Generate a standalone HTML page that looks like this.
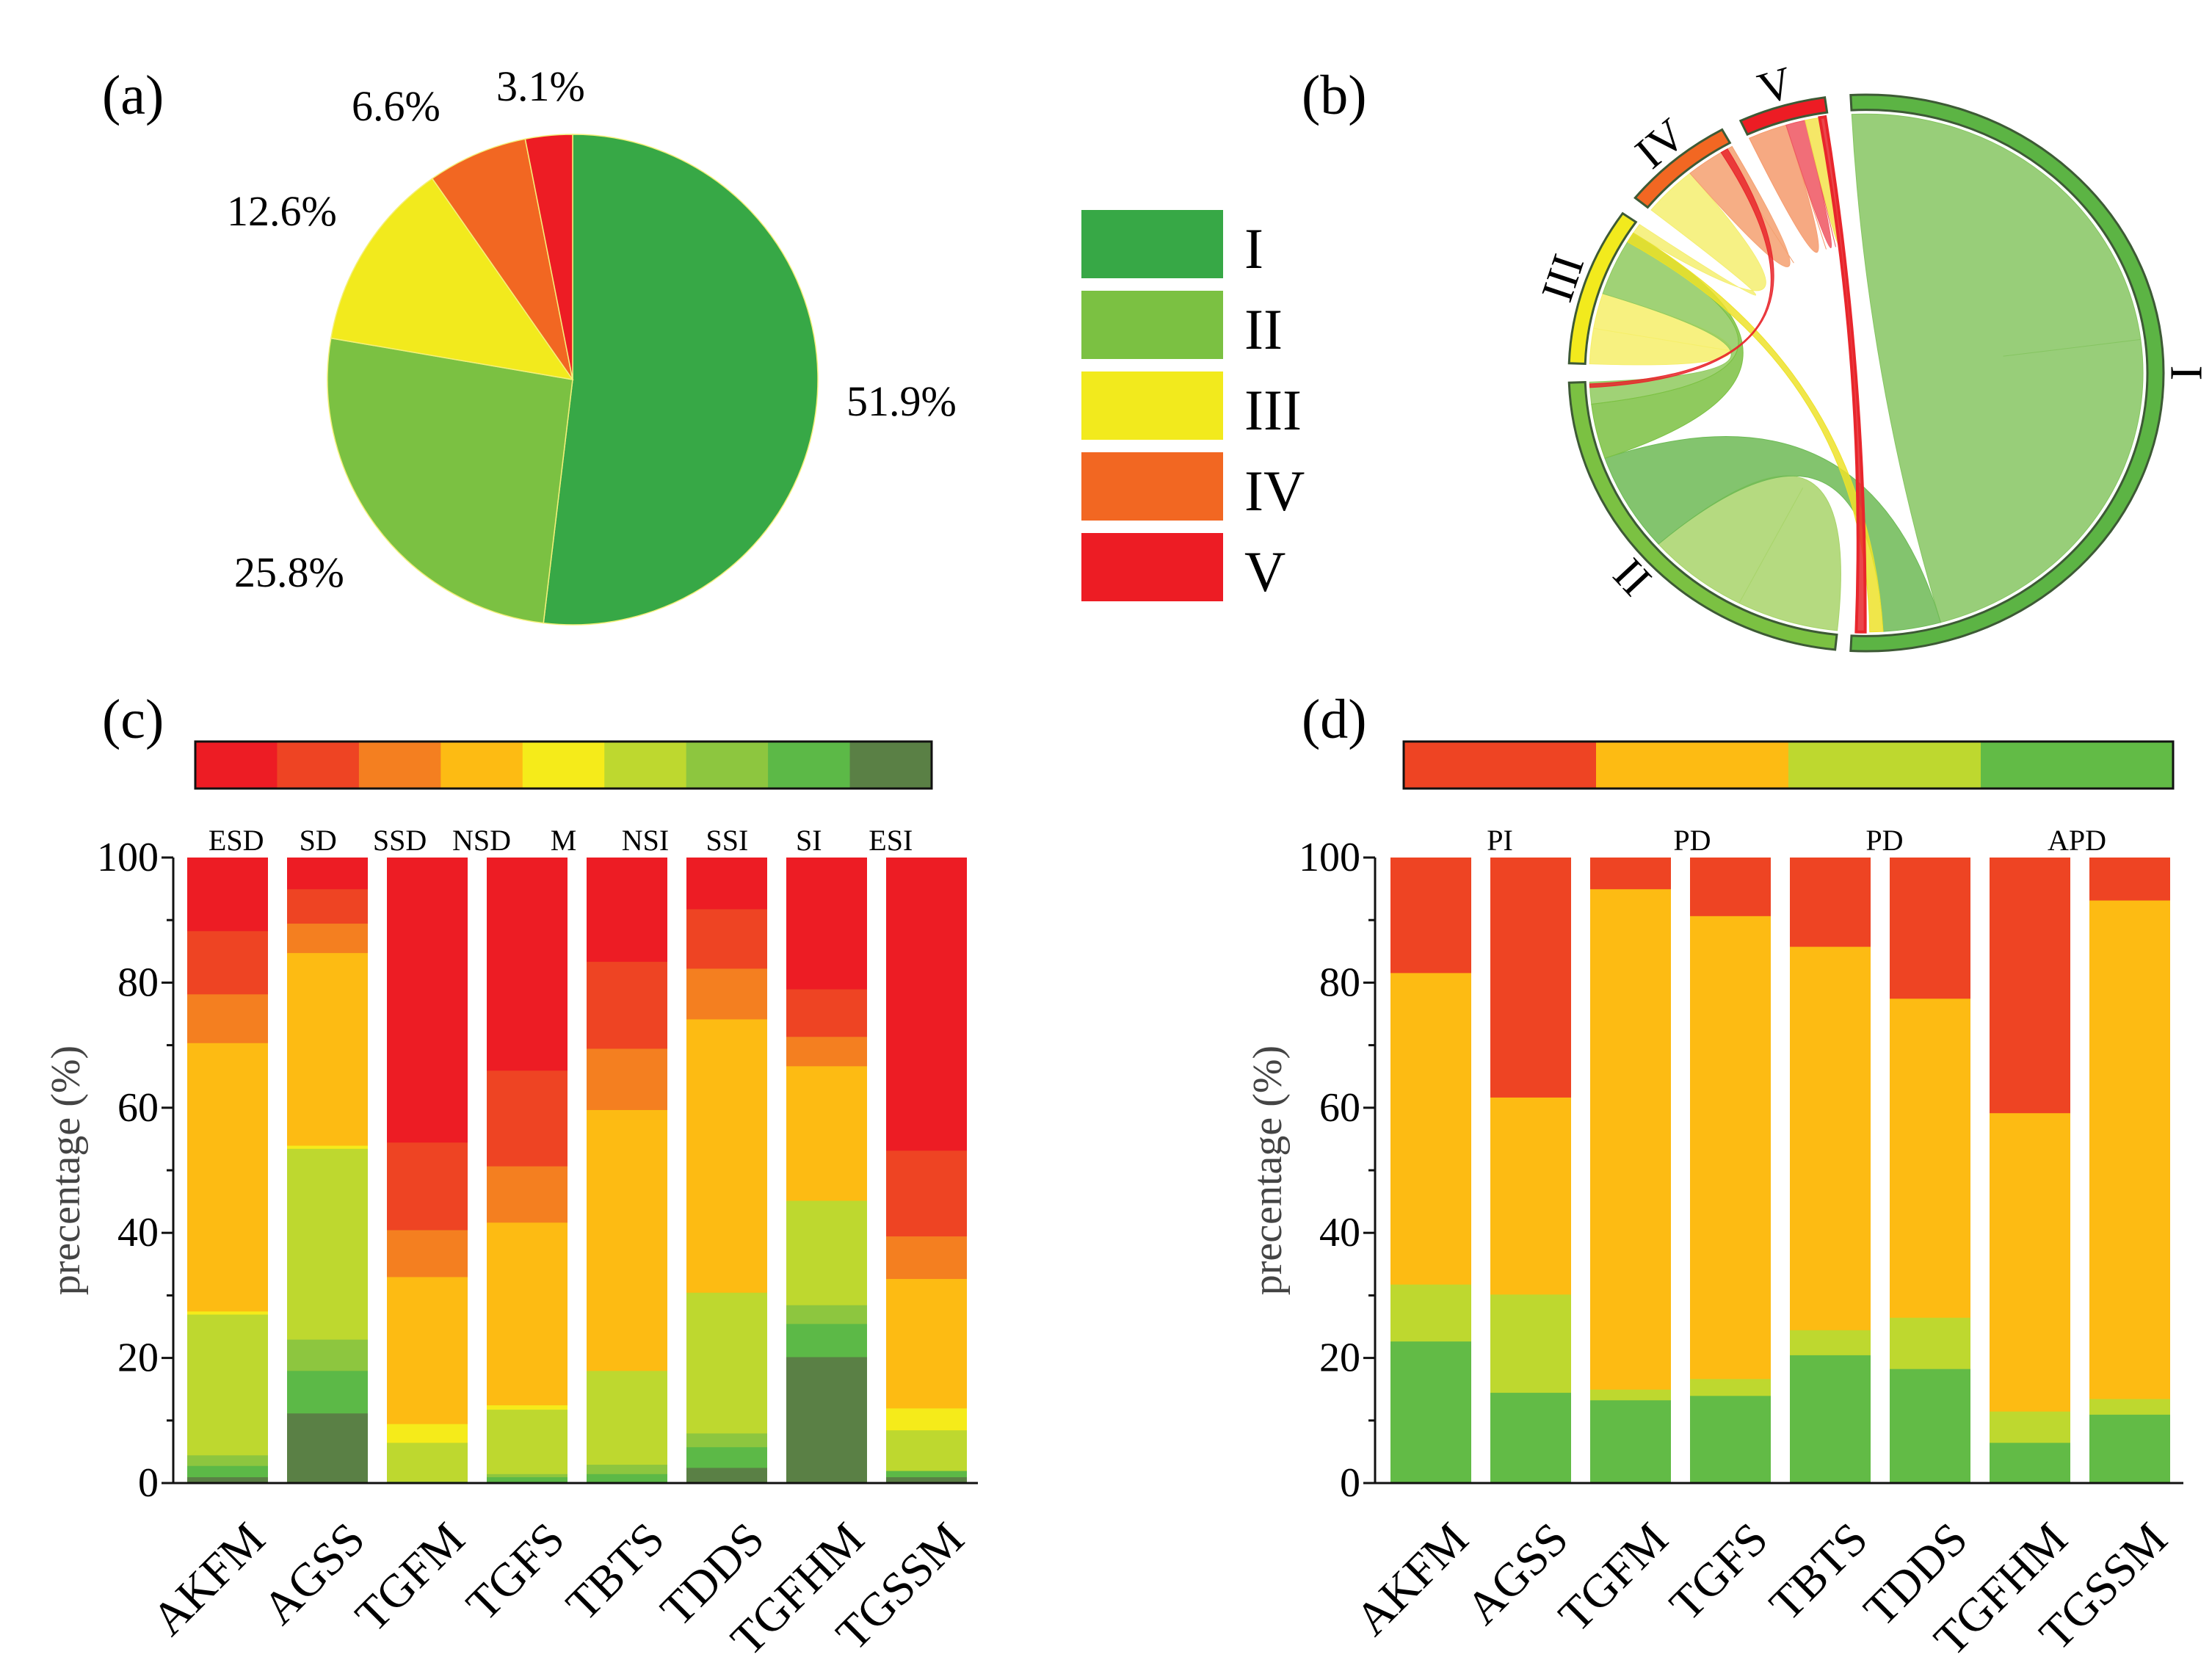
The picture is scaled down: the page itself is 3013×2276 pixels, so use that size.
<!DOCTYPE html>
<html><head><meta charset="utf-8">
<style>
html,body{margin:0;padding:0;background:#fff;}
svg{display:block;font-family:"Liberation Serif",serif;}
</style></head>
<body>
<svg id="fig" width="3013" height="2276" viewBox="0 0 3013 2276" xmlns="http://www.w3.org/2000/svg">
<rect width="3013" height="2276" fill="#fff"/>
<text x="139" y="155" font-size="76">(a)</text>
<text x="1773" y="155" font-size="76">(b)</text>
<text x="139" y="1005" font-size="76">(c)</text>
<text x="1773" y="1005" font-size="76">(d)</text>
<g id="pie"></g>
<g id="legend"></g>
<g id="chord"></g>
<g id="barc"></g>
<g id="bard"></g>
</svg>
<script>
// ---------- data ----------
const pieClasses = ["I","II","III","IV","V"];
const pieValues = [51.9, 25.8, 12.6, 6.6, 3.1];
const pieLabels = ["51.9%","25.8%","12.6%","6.6%","3.1%"];
const classColors = ["#37a846","#7bc142","#f2ea1d","#f26722","#ed1c24"];

const chordGroups = ["I","II","III","IV","V"];
const chordStart = [-3, 186, 272, 309, 335];
const chordEnd = [183, 268, 305, 331, 352];
const linkSrc = [0,1,1,2,2,3,3,4,4,4,1,2,4,3];
const linkSrcA = [0.00,0.00,0.52,0.00,0.48,0.00,0.52,0.00,0.48,0.72,0.79,0.86,0.90,0.88];
const linkSrcB = [0.46,0.26,0.79,0.24,0.86,0.52,0.88,0.48,0.72,0.90,0.94,0.93,0.97,0.95];
const linkTgt = [0,1,0,2,1,2,3,4,4,4,2,0,0,1];
const linkTgtA = [0.46,0.26,0.90,0.24,0.94,0.93,0.88,0.48,0.72,0.90,0.86,0.965,0.985,0.985];
const linkTgtB = [0.90,0.52,0.965,0.48,1.00,1.00,1.00,0.48,0.72,0.90,0.93,0.98,0.995,0.995];
const linkColor = ["#86c562","#a8d46a","#6dba55","#f6ef6a","#8fca5e","#f4ee70","#f4a070","#f59a6c","#ee5560","#f3e34c","#7bc142","#ede22a","#e8262c","#e8262c"];

const barCats = ["AKFM","AGSS","TGFM","TGFS","TBTS","TDDS","TGFHM","TGSSM"];
const cLevels = ["ESD","SD","SSD","NSD","M","NSI","SSI","SI","ESI"];
const cColors = ["#ed1c24","#ee4423","#f47f20","#fdbb13","#f5eb1a","#bed82f","#8dc63f","#5cb947","#5a8045"];
const cESI = [1, 11.2, 0, 0, 0, 2.5, 20.2, 1];
const cSI  = [1.8, 6.8, 0, 1, 1.5, 3.3, 5.3, 1];
const cSSI = [1.7, 5, 0.3, 0.5, 1.5, 2.2, 3, 0];
const cNSI = [22.5, 30.5, 6.2, 10.3, 15, 22.5, 16.7, 6.5];
const cM   = [0.5, 0.5, 3, 0.7, 0, 0, 0, 3.5];
const cNSD = [42.9, 30.8, 23.5, 29.2, 41.7, 43.7, 21.5, 20.7];
const cSSD = [7.8, 4.7, 7.5, 9, 9.8, 8.1, 4.7, 6.8];
const cSD  = [10.1, 5.5, 14, 15.3, 13.9, 9.5, 7.6, 13.7];
const cESD = [11.7, 5, 45.5, 34, 16.6, 8.2, 21, 46.8];

const dLevels = ["PI","PD","PD","APD"];
const dColors = ["#ee4423","#fdbb13","#bed82f","#62bb46"];
const dAPD = [22.7, 14.5, 13.3, 14, 20.5, 18.3, 6.5, 11];
const dPD2 = [9.1, 15.7, 1.7, 2.7, 4, 8.2, 5, 2.5];
const dPD1 = [49.8, 31.5, 80, 74, 61.3, 51, 47.7, 79.7];
const dPI  = [18.4, 38.3, 5, 9.3, 14.2, 22.5, 40.8, 6.8];
const yTicks = [0,20,40,60,80,100];

const NS = "http://www.w3.org/2000/svg";
function mk(parent, tag, attrs, text){
  const e = document.createElementNS(NS, tag);
  for (const k in attrs) e.setAttribute(k, attrs[k]);
  if (text !== undefined) e.textContent = text;
  parent.appendChild(e);
  return e;
}

// ---------- pie ----------
(function(){
  const g = document.getElementById('pie');
  const cx = 780, cy = 517, r = 334;
  const total = pieValues.reduce((a,b)=>a+b,0);
  let acc = 0;
  const pt = (a)=>[cx + r*Math.sin(a*Math.PI/180), cy - r*Math.cos(a*Math.PI/180)];
  pieValues.forEach((v,i)=>{
    const a0 = acc/total*360, a1 = (acc+v)/total*360; acc += v;
    const p0 = pt(a0), p1 = pt(a1);
    const large = (a1-a0) > 180 ? 1 : 0;
    const p = mk(g,'path',{d:`M${cx},${cy} L${p0[0]},${p0[1]} A${r},${r} 0 ${large} 1 ${p1[0]},${p1[1]} Z`, fill:classColors[i], stroke:'#f4f07a', 'stroke-width':1.5});
    
    
  });
  const lx = [1153, 319, 309, 479, 676], ly = [566, 799, 307, 164, 137];
  pieLabels.forEach((t,i)=>{
    const e = mk(g,'text',{x:lx[i], y:ly[i], 'font-size':58}, t);
    
    
  });
})();

// ---------- legend ----------
(function(){
  const g = document.getElementById('legend');
  pieClasses.forEach((c,i)=>{
    const y = 286 + i*110;
    const r = mk(g,'rect',{x:1473, y:y, width:193, height:93, fill:classColors[i]});
    
    
    const t = mk(g,'text',{x:1695, y:y+79, 'font-size':78}, c);
    
    
  });
})();

// ---------- chord ----------
(function(){
  const g = document.getElementById('chord');
  const cx = 2542, cy = 508, RX = 405, RY = 379, band = 22, gap = 6;
  const P = (a, k)=>[cx + RX*k*Math.sin(a*Math.PI/180), cy - RY*k*Math.cos(a*Math.PI/180)];
  const kIn = (RX-band)/RX, kRib = (RX-band-gap)/RX;
  const ang = (gi, f)=> chordStart[gi] + f*(chordEnd[gi]-chordStart[gi]);
  for (let i=0;i<linkSrc.length;i++){
    const s1 = ang(linkSrc[i], linkSrcA[i]), s2 = ang(linkSrc[i], linkSrcB[i]);
    const t1 = ang(linkTgt[i], linkTgtA[i]), t2 = ang(linkTgt[i], linkTgtB[i]);
    const a = P(s1,kRib), b = P(s2,kRib), c = P(t1,kRib), d = P(t2,kRib);
    const rx = RX*kRib, ry = RY*kRib;
    const l1 = (s2-s1)>180?1:0, l2 = (t2-t1)>180?1:0;
    const thin = (s2-s1) < 1.2;
    let dd = `M${a[0]},${a[1]} A${rx},${ry} 0 ${l1} 1 ${b[0]},${b[1]} Q${cx},${cy} ${c[0]},${c[1]} A${rx},${ry} 0 ${l2} 1 ${d[0]},${d[1]} Q${cx},${cy} ${a[0]},${a[1]} Z`;
    const p = mk(g,'path',{d:dd, fill:linkColor[i], 'fill-opacity':0.85, stroke:linkColor[i], 'stroke-width':thin?4:1});
    
    
  }
  chordGroups.forEach((gname,i)=>{
    const a0 = chordStart[i], a1 = chordEnd[i];
    const o0 = P(a0,1), o1 = P(a1,1), n0 = P(a0,kIn), n1 = P(a1,kIn);
    const l = (a1-a0)>180?1:0;
    const d = `M${o0[0]},${o0[1]} A${RX},${RY} 0 ${l} 1 ${o1[0]},${o1[1]} L${n1[0]},${n1[1]} A${RX*kIn},${RY*kIn} 0 ${l} 0 ${n0[0]},${n0[1]} Z`;
    const p = mk(g,'path',{d:d, fill:i===0?'#5cb444':classColors[i], stroke:'#3d5a35', 'stroke-width':3});
    
    
    const mid = (a0+a1)/2;
    const lp = P(mid, 1.075);
    const t = mk(g,'text',{x:lp[0], y:lp[1], 'font-size':62, 'text-anchor':'middle', 'dominant-baseline':'central', transform:`rotate(${mid>180?mid-360:mid} ${lp[0]} ${lp[1]})`}, gname);
    
    
  });
})();

// ---------- stacked bars ----------
function stacked(gid, cfg){
  const g = document.getElementById(gid);
  const y = v => cfg.y0 - v/100*(cfg.y0-cfg.y100);
  const segW = (cfg.cbX1-cfg.cbX0)/cfg.levels.length;
  cfg.levels.forEach((lv,i)=>{
    const r = mk(g,'rect',{x:cfg.cbX0+i*segW, y:1010, width:segW+0.5, height:64, fill:cfg.cbColors[i]});
    
    
  });
  const cbo = mk(g,'rect',{x:cfg.cbX0, y:1010, width:cfg.cbX1-cfg.cbX0, height:64, fill:'none', stroke:'#111', 'stroke-width':3});
  
  
  cfg.topLabels.forEach((lv,i)=>{
    if (!lv) return;
    const t = mk(g,'text',{x:cfg.topX(i,segW), y:1158, 'font-size':40, 'text-anchor':'middle'}, lv);
    
    
  });
  barCats.forEach((cat,j)=>{
    const x = cfg.barX0 + j*136;
    let acc = 0;
    cfg.series.forEach((arr,k)=>{
      const v = arr[j];
      if (v <= 0) { return; }
      const r = mk(g,'rect',{x:x, y:y(acc+v), width:110, height:y(acc)-y(acc+v)+0.6, fill:cfg.colors[k]});
      
      
      acc += v;
    });
    const lx = x + 55 + 22, ly = cfg.y0 + 48;
    const t = mk(g,'text',{x:lx, y:ly, 'font-size':64, 'text-anchor':'end', 'dominant-baseline':'hanging', transform:`rotate(-45 ${lx} ${ly})`}, cat);
    
    
  });
  const ya = mk(g,'line',{x1:cfg.axX, y1:cfg.y0, x2:cfg.axX, y2:cfg.y100, stroke:'#111', 'stroke-width':3});
  
  
  const xa = mk(g,'line',{x1:cfg.axX, y1:cfg.y0, x2:cfg.axX1, y2:cfg.y0, stroke:'#111', 'stroke-width':3});
  
  
  for (let v=0; v<=100; v+=10){
    const major = v%20===0;
    const tk = mk(g,'line',{x1:cfg.axX-(major?16:9), y1:y(v), x2:cfg.axX, y2:y(v), stroke:'#111', 'stroke-width':3});
    
    
  }
  yTicks.forEach(v=>{
    const t = mk(g,'text',{x:cfg.axX-20, y:y(v), 'font-size':56, 'text-anchor':'end', 'dominant-baseline':'central'}, String(v));
    
    
  });
  const yt = mk(g,'text',{x:cfg.titleX, y:(cfg.y0+cfg.y100)/2, 'font-size':56, 'text-anchor':'middle', 'dominant-baseline':'central', fill:'#444', transform:`rotate(-90 ${cfg.titleX} ${(cfg.y0+cfg.y100)/2})`}, 'precentage (%)');
  
  
}

stacked('barc', {
  y0:2020, y100:1168, axX:236, axX1:1332, barX0:255, titleX:90,
  cbX0:266, cbX1:1269,
  levels:cLevels, cbColors:cColors, topLabels:cLevels,
  topX:(i,w)=>266 + (i+0.5)*w,
  series:[cESI,cSI,cSSI,cNSI,cM,cNSD,cSSD,cSD,cESD],
  colors:["#5a8045","#5cb947","#8dc63f","#bed82f","#f5eb1a","#fdbb13","#f47f20","#ee4423","#ed1c24"],
  names:["ESI","SI","SSI","NSI","M","NSD","SSD","SD","ESD"]
});
stacked('bard', {
  y0:2020, y100:1168, axX:1873, axX1:2974, barX0:1894, titleX:1727,
  cbX0:1912, cbX1:2960,
  levels:["PI","PD1","PD2","APD"], cbColors:dColors, topLabels:dLevels,
  topX:(i,w)=>1912 + (i+0.5)*w,
  series:[dAPD,dPD2,dPD1,dPI],
  colors:["#62bb46","#bed82f","#fdbb13","#ee4423"],
  names:["APD","PD2","PD1","PI"]
});
</script>
</body></html>
